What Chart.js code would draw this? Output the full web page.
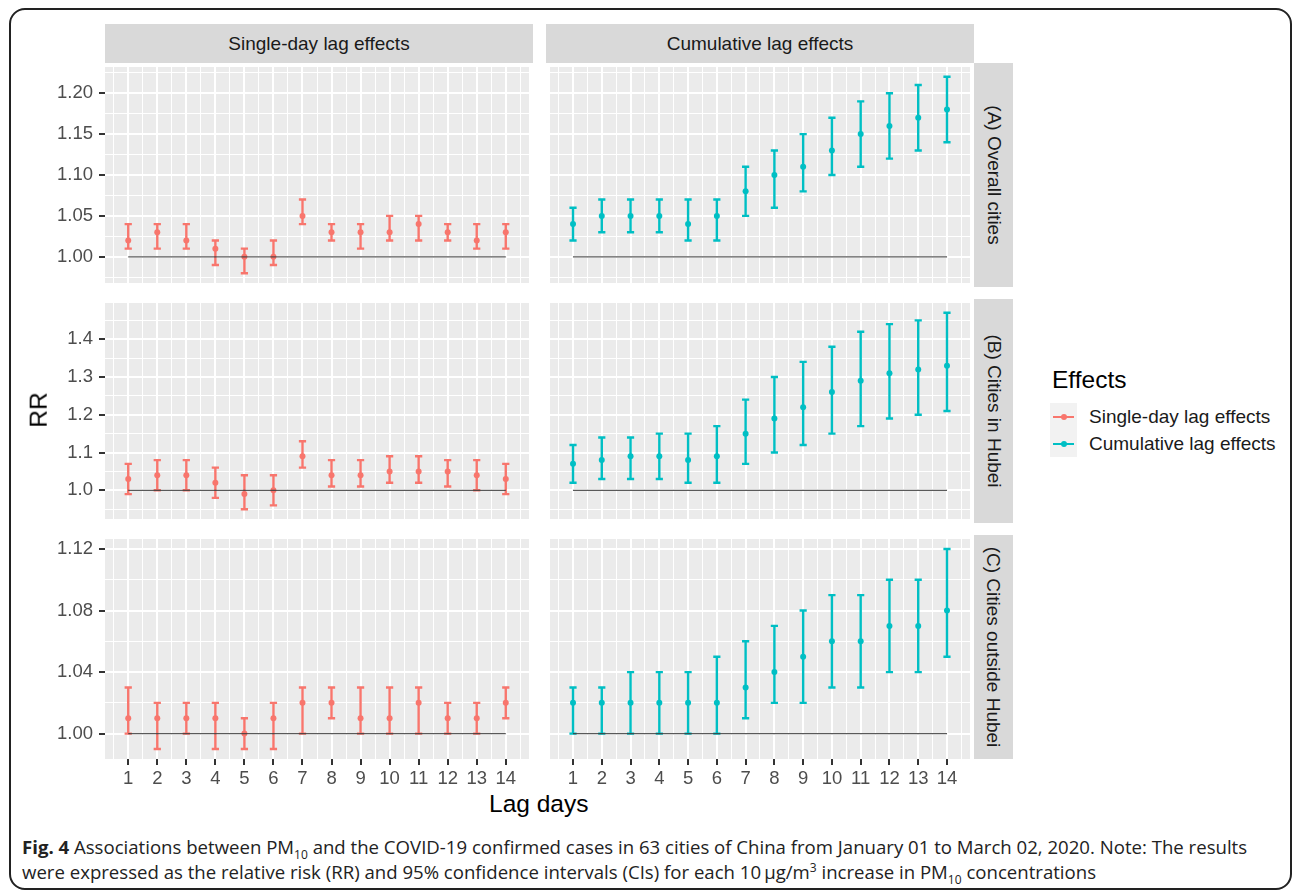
<!DOCTYPE html>
<html>
<head>
<meta charset="utf-8">
<script src="https://cdn.jsdelivr.net/npm/chart.js@4.4.1/dist/chart.umd.min.js"></script>
<style>
    html, body { margin: 0; padding: 0; background: #fff; }
    body { width: 1292px; height: 892px; position: relative; overflow: hidden; font-family: 'Liberation Sans', Arial, sans-serif; }
    .frame { position: absolute; left: 9px; top: 8px; width: 1279px; height: 878px; border: 2px solid #222; border-radius: 16px; }
    canvas { position: absolute; }
    .strip { position: absolute; background: #D9D9D9; color: #1A1A1A; font-size: 19px; display: flex; align-items: center; justify-content: center; }
    .strip.side span { display: block; transform: rotate(90deg); white-space: nowrap; }
    .axis-title { position: absolute; font-size: 24.5px; color: #000; white-space: nowrap; }
    .legend-title { position: absolute; left: 1052px; top: 366px; font-size: 24.5px; color: #000; }
    .legend-key { position: absolute; left: 1050px; width: 27px; height: 27px; background: #F2F2F2; }
    .legend-key .ln { position: absolute; left: 3px; right: 3px; top: 12.5px; height: 2px; }
    .legend-key .dt { position: absolute; left: 10.5px; top: 10.5px; width: 6px; height: 6px; border-radius: 50%; }
    .legend-label { position: absolute; left: 1089px; font-size: 19px; color: #1A1A1A; white-space: nowrap; }
    .caption { position: absolute; left: 22px; font-family: 'Open Sans', sans-serif; font-size: 18.6px; color: #222; white-space: nowrap; }
    .caption sub, .caption sup { font-size: 12px; line-height: 0; }
</style>
</head>
<body>
<div class="frame"></div>

<div class="strip" style="left:105px;top:24px;width:428px;height:39px">Single-day lag effects</div>
<div class="strip" style="left:546px;top:24px;width:428px;height:39px">Cumulative lag effects</div>
<div class="strip side" style="left:974px;top:63px;width:39px;height:224px"><span>(A) Overall cities</span></div>
<div class="strip side" style="left:974px;top:299px;width:39px;height:224px"><span>(B) Cities in Hubei</span></div>
<div class="strip side" style="left:974px;top:535px;width:39px;height:224px"><span>(C) Cities outside Hubei</span></div>

<canvas id="pA1" width="488" height="224" style="left:45px;top:63px"></canvas>
<canvas id="pA2" width="428" height="224" style="left:546px;top:63px"></canvas>
<canvas id="pB1" width="488" height="224" style="left:45px;top:299px"></canvas>
<canvas id="pB2" width="428" height="224" style="left:546px;top:299px"></canvas>
<canvas id="pC1" width="488" height="254" style="left:45px;top:535px"></canvas>
<canvas id="pC2" width="428" height="254" style="left:546px;top:535px"></canvas>

<div class="axis-title" style="left:21px;top:396px;transform:rotate(-90deg)">RR</div>
<div class="axis-title" style="left:489px;top:790px">Lag days</div>

<div class="legend-title">Effects</div>
<div class="legend-key" style="top:403px"><div class="ln" style="background:#F8766D"></div><div class="dt" style="background:#F8766D"></div></div>
<div class="legend-key" style="top:430px"><div class="ln" style="background:#00BFC4"></div><div class="dt" style="background:#00BFC4"></div></div>
<div class="legend-label" style="top:406px">Single-day lag effects</div>
<div class="legend-label" style="top:433px">Cumulative lag effects</div>

<div class="caption" style="top:834px"><b>Fig. 4</b> Associations between PM<sub>10</sub> and the COVID-19 confirmed cases in 63 cities of China from January 01 to March 02, 2020. Note: The results</div>
<div class="caption" style="top:859px">were expressed as the relative risk (RR) and 95% confidence intervals (CIs) for each 10&thinsp;μg/m<sup>3</sup> increase in PM<sub>10</sub> concentrations</div>

<script>
/* ---- data ---- */
const lagDays = [1, 2, 3, 4, 5, 6, 7, 8, 9, 10, 11, 12, 13, 14];
const xTicks = [1, 2, 3, 4, 5, 6, 7, 8, 9, 10, 11, 12, 13, 14];
const xMinor = [0.5, 1.5, 2.5, 3.5, 4.5, 5.5, 6.5, 7.5, 8.5, 9.5, 10.5, 11.5, 12.5, 13.5, 14.5];

// (A) Overall cities
const singleA   = [1.02, 1.03, 1.02, 1.01, 1.00, 1.00, 1.05, 1.03, 1.03, 1.03, 1.04, 1.03, 1.02, 1.03];
const singleALo = [1.01, 1.01, 1.01, 0.99, 0.98, 0.99, 1.04, 1.02, 1.01, 1.02, 1.02, 1.02, 1.01, 1.01];
const singleAHi = [1.04, 1.04, 1.04, 1.02, 1.01, 1.02, 1.07, 1.04, 1.04, 1.05, 1.05, 1.04, 1.04, 1.04];
const cumA      = [1.04, 1.05, 1.05, 1.05, 1.04, 1.05, 1.08, 1.10, 1.11, 1.13, 1.15, 1.16, 1.17, 1.18];
const cumALo    = [1.02, 1.03, 1.03, 1.03, 1.02, 1.02, 1.05, 1.06, 1.08, 1.10, 1.11, 1.12, 1.13, 1.14];
const cumAHi    = [1.06, 1.07, 1.07, 1.07, 1.07, 1.07, 1.11, 1.13, 1.15, 1.17, 1.19, 1.20, 1.21, 1.22];
const yTicksA = [1.00, 1.05, 1.10, 1.15, 1.20];
const yMinorA = [0.975, 1.025, 1.075, 1.125, 1.175, 1.225];
const yRangeA = [0.968, 1.232];

// (B) Cities in Hubei
const singleB   = [1.03, 1.04, 1.04, 1.02, 0.99, 1.00, 1.09, 1.04, 1.04, 1.05, 1.05, 1.05, 1.04, 1.03];
const singleBLo = [0.99, 1.00, 1.00, 0.98, 0.95, 0.96, 1.06, 1.01, 1.01, 1.02, 1.02, 1.01, 1.00, 0.99];
const singleBHi = [1.07, 1.08, 1.08, 1.06, 1.04, 1.04, 1.13, 1.08, 1.08, 1.09, 1.09, 1.08, 1.08, 1.07];
const cumB      = [1.07, 1.08, 1.09, 1.09, 1.08, 1.09, 1.15, 1.19, 1.22, 1.26, 1.29, 1.31, 1.32, 1.33];
const cumBLo    = [1.02, 1.03, 1.03, 1.03, 1.02, 1.02, 1.07, 1.10, 1.12, 1.15, 1.17, 1.19, 1.20, 1.21];
const cumBHi    = [1.12, 1.14, 1.14, 1.15, 1.15, 1.17, 1.24, 1.30, 1.34, 1.38, 1.42, 1.44, 1.45, 1.47];
const yTicksB = [1.0, 1.1, 1.2, 1.3, 1.4];
const yMinorB = [0.95, 1.05, 1.15, 1.25, 1.35, 1.45];
const yRangeB = [0.924, 1.496];

// (C) Cities outside Hubei
const singleC   = [1.01, 1.01, 1.01, 1.01, 1.00, 1.01, 1.02, 1.02, 1.01, 1.01, 1.02, 1.01, 1.01, 1.02];
const singleCLo = [1.00, 0.99, 1.00, 0.99, 0.99, 0.99, 1.00, 1.01, 1.00, 1.00, 1.00, 1.00, 1.00, 1.01];
const singleCHi = [1.03, 1.02, 1.02, 1.02, 1.01, 1.02, 1.03, 1.03, 1.03, 1.03, 1.03, 1.02, 1.02, 1.03];
const cumC      = [1.02, 1.02, 1.02, 1.02, 1.02, 1.02, 1.03, 1.04, 1.05, 1.06, 1.06, 1.07, 1.07, 1.08];
const cumCLo    = [1.00, 1.00, 1.00, 1.00, 1.00, 1.00, 1.01, 1.02, 1.02, 1.03, 1.03, 1.04, 1.04, 1.05];
const cumCHi    = [1.03, 1.03, 1.04, 1.04, 1.04, 1.05, 1.06, 1.07, 1.08, 1.09, 1.09, 1.10, 1.10, 1.12];
const yTicksC = [1.00, 1.04, 1.08, 1.12];
const yMinorC = [1.02, 1.06, 1.10];
const yRangeC = [0.9835, 1.1265];

const xRange = [0.2, 14.8];
const refValue = 1;

/* ---- styling ---- */
const RED = '#F8766D';
const CYAN = '#00BFC4';
const CAP = 0.125;            // half width of the error bar caps, in lag-day units
const FONT = "'Liberation Sans', Arial, sans-serif";

const panelBg = {
    id: 'panelBg',
    beforeDraw(chart) {
        const { ctx, chartArea: a } = chart;
        ctx.save();
        ctx.fillStyle = '#EBEBEB';
        ctx.fillRect(a.left, a.top, a.right - a.left, a.bottom - a.top);
        ctx.restore();
    }
};

const near = (list, v) => list.some(t => Math.abs(t - v) < 1e-6);

function errorPath(lo, hi) {
    const pts = [];
    lagDays.forEach((d, i) => {
        pts.push({ x: d, y: lo[i] }, { x: d, y: hi[i] }, { x: d, y: null });
        pts.push({ x: d - CAP, y: lo[i] }, { x: d + CAP, y: lo[i] }, { x: d, y: null });
        pts.push({ x: d - CAP, y: hi[i] }, { x: d + CAP, y: hi[i] }, { x: d, y: null });
    });
    return pts;
}

function drawPanel(id, p) {
    const tickFont = { family: FONT, size: 18.5 };
    new Chart(document.getElementById(id), {
        type: 'line',
        data: {
            datasets: [
                { data: [{ x: lagDays[0], y: refValue }, { x: lagDays[lagDays.length - 1], y: refValue }],
                  borderColor: 'rgba(60,60,60,0.85)', borderWidth: 1.3, pointRadius: 0, order: 0 },
                { type: 'scatter', data: lagDays.map((d, i) => ({ x: d, y: p.mean[i] })),
                  pointRadius: 3, pointBackgroundColor: p.color, pointBorderWidth: 0, order: 1 },
                { data: errorPath(p.lo, p.hi), borderColor: p.color, borderWidth: 2.4,
                  pointRadius: 0, spanGaps: false, order: 2 }
            ]
        },
        options: {
            responsive: false,
            animation: false,
            events: [],
            layout: { padding: 0 },
            plugins: { legend: { display: false }, tooltip: { enabled: false } },
            scales: {
                x: {
                    type: 'linear', min: xRange[0], max: xRange[1],
                    afterBuildTicks: s => { s.ticks = xMinor.concat(xTicks).sort((a, b) => a - b).map(v => ({ value: v })); },
                    afterFit: s => { s.height = p.showX ? 30 : 0; s.paddingLeft = s.paddingRight = 0; },
                    border: { display: false },
                    grid: {
                        color: '#FFFFFF',
                        lineWidth: c => (c.tick && near(xTicks, c.tick.value)) ? 2 : 1,
                        drawTicks: p.showX, tickLength: 6, tickWidth: 2,
                        tickColor: c => (c.tick && near(xTicks, c.tick.value)) ? '#333333' : 'rgba(0,0,0,0)'
                    },
                    ticks: {
                        display: p.showX, autoSkip: false, maxRotation: 0, padding: 3,
                        color: '#4D4D4D', font: tickFont,
                        callback: v => near(xTicks, v) ? String(v) : ''
                    }
                },
                y: {
                    type: 'linear', min: p.range[0], max: p.range[1],
                    afterBuildTicks: s => { s.ticks = p.minor.concat(p.major).sort((a, b) => a - b).map(v => ({ value: v })); },
                    afterFit: s => { s.width = p.showY ? 60 : 0; s.paddingTop = s.paddingBottom = 0; },
                    border: { display: false },
                    grid: {
                        color: '#FFFFFF',
                        lineWidth: c => (c.tick && near(p.major, c.tick.value)) ? 2 : 1,
                        drawTicks: p.showY, tickLength: 6, tickWidth: 2,
                        tickColor: c => (c.tick && near(p.major, c.tick.value)) ? '#333333' : 'rgba(0,0,0,0)'
                    },
                    ticks: {
                        display: p.showY, autoSkip: false, padding: 6,
                        color: '#4D4D4D', font: tickFont,
                        callback: v => near(p.major, v) ? v.toFixed(p.dec) : ''
                    }
                }
            }
        },
        plugins: [panelBg]
    });
}

drawPanel('pA1', { mean: singleA, lo: singleALo, hi: singleAHi, color: RED,  major: yTicksA, minor: yMinorA, range: yRangeA, dec: 2, showY: true,  showX: false });
drawPanel('pA2', { mean: cumA,    lo: cumALo,    hi: cumAHi,    color: CYAN, major: yTicksA, minor: yMinorA, range: yRangeA, dec: 2, showY: false, showX: false });
drawPanel('pB1', { mean: singleB, lo: singleBLo, hi: singleBHi, color: RED,  major: yTicksB, minor: yMinorB, range: yRangeB, dec: 1, showY: true,  showX: false });
drawPanel('pB2', { mean: cumB,    lo: cumBLo,    hi: cumBHi,    color: CYAN, major: yTicksB, minor: yMinorB, range: yRangeB, dec: 1, showY: false, showX: false });
drawPanel('pC1', { mean: singleC, lo: singleCLo, hi: singleCHi, color: RED,  major: yTicksC, minor: yMinorC, range: yRangeC, dec: 2, showY: true,  showX: true });
drawPanel('pC2', { mean: cumC,    lo: cumCLo,    hi: cumCHi,    color: CYAN, major: yTicksC, minor: yMinorC, range: yRangeC, dec: 2, showY: false, showX: true });
</script>
</body>
</html>
